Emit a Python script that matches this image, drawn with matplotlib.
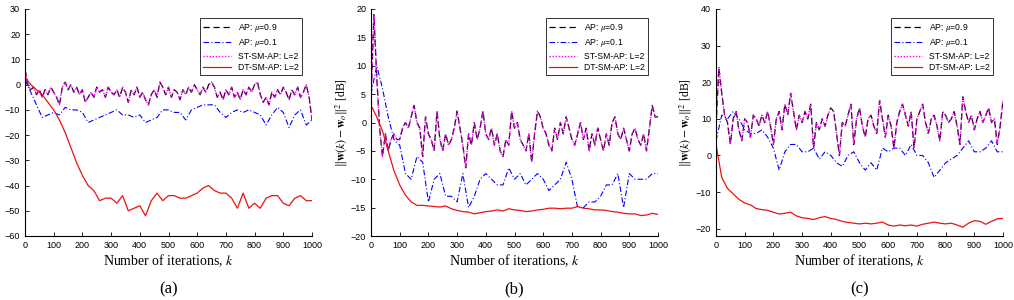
import numpy as np
import matplotlib
matplotlib.use("Agg")
import matplotlib.pyplot as plt

plt.rcParams['font.family'] = ['Liberation Sans', 'DejaVu Sans']
plt.rcParams['mathtext.fontset'] = 'stix'

# iteration grids
k10 = np.arange(0, 1001, 10)
k20 = np.arange(0, 1001, 20)

# ---- panel (a) ----
ap09_a = [6, 0, -2, -1, -4, -2, -5, -2, -4, -1, -3, -5, -8, -1, 1, -2, 0, -3, -1, -4,
          -2, -7, -5, -3, -5, -1, -3, -2, -5, -1, -3, -4, -2, -5, -1, -3, -7, -2, -4, -1,
          -5, -3, -6, -8, -4, -2, -5, 1, -1, -4, -1, -5, -2, -3, -6, -2, -4, -1, -3, 0,
          -2, -4, -1, -3, 0, 1, -1, -5, -3, -6, -2, -4, -1, -5, -3, -6, -2, -4, -1, -3,
          0, 1, -4, -7, -5, -8, -3, -5, -2, -4, -1, -3, -6, -2, -4, -1, -5, -3, 0, -5, -14]
ap01_a = [2, -3, -8, -13, -12, -11, -12, -9, -10, -10, -11, -15, -14, -13, -12, -11, -10,
          -12, -12, -13, -12, -15, -14, -13, -10, -10, -11, -11, -14, -10, -9, -8, -8, -8,
          -11, -13, -11, -10, -11, -10, -11, -12, -16, -12, -9, -11, -17, -12, -10, -16, -14]
dtsm_a = [3, 0, -2, -4, -7, -10, -14, -19, -25, -31, -36, -40, -42, -46, -45, -45, -47,
          -44, -50, -49, -48, -52, -46, -43, -46, -44, -44, -45, -45, -44, -43, -41, -40,
          -42, -43, -43, -45, -49, -43, -49, -47, -49, -45, -44, -44, -47, -48, -45, -44,
          -46, -46]

# ---- panel (b) ----
ap09_b = [4, 19, 8, -1, -6, -2, -5, -3, -2, -3, -3, -1, 0, -1, 1, 3, 0, -1, -6, 1,
          -2, -3, -5, 2, -3, -5, -2, -4, -3, -1, 2, -1, -4, -8, -2, -4, 0, -3, -1, 2,
          -2, -3, -1, -4, -2, -5, -6, -3, -4, 2, -1, 0, -3, -4, -5, -2, -7, -2, 2, 1,
          -1, -2, -4, -5, -1, -3, 0, -2, 1, -1, -3, -4, -2, 0, -3, -1, -5, -2, -4, -1,
          -3, -5, -2, -4, 0, 1, -2, -3, -1, -3, -5, -2, -1, -3, -4, -2, -5, -1, 3, 1, 1]
ap01_b = [5, 10, 6, 1, -3, -4, -9, -10, -6, -7, -14, -10, -9, -13, -13, -14, -9, -15,
          -13, -10, -9, -10, -11, -11, -8, -10, -9, -11, -10, -9, -10, -12, -11, -10, -7,
          -10, -15, -15, -14, -14, -13, -11, -11, -9, -15, -9, -10, -10, -10, -9, -9]
dtsm_b = [3, 1, -1.5, -5, -8.5, -11, -12.8, -14, -14.6, -14.6, -14.7, -14.8, -14.9, -14.7,
          -15.2, -15.5, -15.7, -15.8, -16.1, -15.9, -15.7, -15.6, -15.4, -15.6, -15.2,
          -15.4, -15.5, -15.7, -15.6, -15.4, -15.3, -15.1, -15.1, -15.2, -15.1, -15.1,
          -14.8, -15.1, -15.2, -15.4, -15.4, -15.5, -15.7, -15.8, -16.0, -16.1, -16.1,
          -16.4, -16.3, -16.0, -16.2]

# ---- panel (c) ----
ap09_c = [8, 24, 17, 11, 9, 3, 10, 12, 7, 4, 10, 9, 5, 11, 10, 8, 11, 9, 12, 8,
          3, 10, 12, 7, 14, 11, 17, 12, 7, 11, 9, 12, 10, 14, 2, 9, 7, 10, 8, 11,
          13, 12, 6, 0, 9, 8, 11, 14, 3, 10, 13, 8, 5, 10, 11, 8, 6, 15, 10, 5,
          11, 8, 2, 9, 12, 14, 11, 8, 12, 2, 10, 12, 14, 9, 6, 10, 11, 8, 4, 12,
          11, 9, 10, 12, 8, 3, 16, 12, 9, 11, 7, 10, 12, 9, 11, 13, 9, 10, 3, 8, 15]
ap01_c = [4, 11, 10, 12, 10, 7, 6, 6, 7, 5, 2, -4, 1, 3, 3, 1, 1, 2, -1, 1, 0, -2, -3,
          0, 1, -2, -4, -2, -4, 2, 1, 2, 2, 0, 3, 0, 0, -2, -6, -4, -2, -1, 0, 2, 4, 1,
          1, 2, 4, 1, 1]
dtsm_c = [3, -6, -9, -10.5, -12, -13, -13.5, -14.5, -14.8, -15, -15.5, -16, -15.8, -15.5,
          -16.5, -17, -17.2, -17.5, -17, -16.7, -17.2, -17.5, -18, -18.3, -18.5, -18.7,
          -18.5, -18.7, -18.5, -18.2, -19, -19.3, -19, -19.2, -19, -19.3, -18.8, -18.5,
          -18.2, -18.5, -18.7, -18.5, -19, -19.6, -18.5, -17.8, -18, -18.8, -18, -17.3, -17.2]

panels = [
    (ap09_a, ap01_a, dtsm_a, (-60, 30), np.arange(-60, 31, 10), '(a)'),
    (ap09_b, ap01_b, dtsm_b, (-20, 20), np.arange(-20, 21, 5), '(b)'),
    (ap09_c, ap01_c, dtsm_c, (-22, 40), np.arange(-20, 41, 10), '(c)'),
]
lefts = [25 / 1014, 371 / 1014, 716 / 1014]

fig = plt.figure(figsize=(10.14, 3.0), dpi=100)
serif = ['Liberation Serif', 'DejaVu Serif']

for (ap09, ap01, dtsm, ylim, yt, cap), left in zip(panels, lefts):
    ax = fig.add_axes([left, 1 - 236 / 300, 287 / 1014, 227 / 300])
    ax.plot(k10, ap09, color='black', ls=(0, (5, 3)), lw=0.9, label=r'AP: $\mu$=0.9')
    ax.plot(k20, ap01, color='#0000ff', ls=(0, (5, 2, 1, 2)), lw=0.8, label=r'AP: $\mu$=0.1')
    ax.plot(k10, ap09, color='#ff00ff', ls=(0, (1, 1.2)), lw=1.0, label='ST-SM-AP: L=2')
    ax.plot(k20, dtsm, color='#ee1111', ls='-', lw=0.9, label='DT-SM-AP: L=2')
    ax.set_xlim(0, 1000)
    ax.set_ylim(*ylim)
    ax.set_xticks(np.arange(0, 1001, 100))
    ax.set_yticks(yt)
    ax.tick_params(direction='in', labelsize=6.5, length=3, width=0.6)
    for s in ['top', 'right']:
        ax.spines[s].set_visible(False)
    for s in ['left', 'bottom']:
        ax.spines[s].set_linewidth(0.8)
    ax.set_xlabel(r'Number of iterations, $k$', fontsize=10, family=serif, labelpad=2)
    ax.set_ylabel(r'$\|\mathbf{w}(k)-\mathbf{w}_o\|^2$ [dB]', fontsize=8.5, family=serif, labelpad=1)
    leg = ax.legend(loc='upper right', fontsize=6.2, frameon=True, fancybox=False,
                    handlelength=3.2, borderpad=0.4, labelspacing=0.25,
                    bbox_to_anchor=(0.98, 0.98))
    leg.get_frame().set_edgecolor('black')
    leg.get_frame().set_linewidth(0.7)
    fig.text(left + 287 / 1014 / 2, 1 - 289 / 300, cap, ha='center', va='center',
             fontsize=12, family=serif)

fig.savefig('out.png', dpi=100)
